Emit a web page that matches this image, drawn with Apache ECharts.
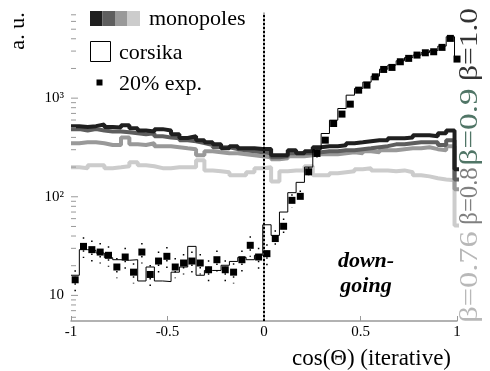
<!DOCTYPE html>
<html><head><meta charset="utf-8">
<script src="https://cdn.jsdelivr.net/npm/echarts@6/dist/echarts.min.js"></script>
<style>html,body{margin:0;padding:0;background:#fff}#chart{width:490px;height:371px}</style>
</head><body><div id="chart"></div>
<script>
// ---- data ----
const binStart = -1;
const binWidth = 0.0432;          // histogram bin width in cos(Theta)
const xTickLabels = ['-1', '-0.5', '0', '0.5', '1'];
const xTickValues = [-1, -0.5, 0, 0.5, 1];
const yMajorTicks = [10, 100, 1000];
const yMajorLabels = ['10', '10\u00B2', '10\u00B3'];
const yMinorTicks = [6, 7, 8, 9, 20, 30, 40, 50, 60, 70, 80, 90, 200, 300, 400, 500, 600, 700, 800, 900, 2000, 3000, 4000, 5000, 6000, 7000];

// monopole histograms (46 bins + overflow bin)
const beta100 = [520,510,520,540,510,505,530,495,470,460,485,470,430,395,410,375,357,340,310,325,310,310,305,305,264,264,297,276,290,318,326,326,333,349,357,366,375,375,393,393,400,421,421,411,441,470,190];
const beta090 = [485,470,485,470,460,460,450,440,430,440,410,400,393,375,366,350,335,318,318,304,297,290,283,276,252,258,276,276,276,283,290,290,297,297,304,310,318,326,340,340,349,357,357,357,335,375,150];
const beta080 = [349,357,357,349,335,335,400,340,335,349,326,326,318,310,304,264,290,283,276,276,270,264,258,252,240,246,258,258,264,270,270,270,276,283,276,290,283,297,297,304,310,310,318,304,297,326,119];
const beta076 = [199,195,209,209,195,199,204,224,209,204,195,195,199,199,199,235,185,181,177,165,165,177,195,199,143,181,185,185,204,165,165,173,177,181,190,195,185,185,181,185,177,165,161,154,150,147,51];
// corsika histogram (46 bins + overflow bin)
const corsika = [16.0,29.1,28.6,26.9,24.1,23.0,22.7,23.0,14.0,19.4,14.0,13.8,17.2,19.4,31.4,16.0,17.9,17.9,20.2,22.1,24.3,23.0,25.5,52,40.6,70,110,140,200,300,438,598,785,1072,1253,1453,1671,1968,2162,2392,2577,2733,2897,3036,3372,4190,2433];
// 20% experimental data (46 bins) with errors, plus overflow point
const exp20 = [14.4,31.4,29.1,27.5,25.5,19.4,24.5,17.2,27.5,16.3,22.3,24.9,19.4,21.3,22.3,21.3,18.2,23.0,18.2,17.2,23.0,32.2,24.5,26.5,37.7,50.2,92,101,179,275,375,553,689,869,1205,1355,1645,1954,2049,2339,2531,2733,2884,2953,3271,4036];
const exp20Err = [3.6,7.5,7,6.5,6,4.5,6,4,6.5,4,5.5,6,4.5,5,5.5,5,4.5,5.5,4.5,4,5.5,7.5,6,6.5,8,10,14,15,20,25,28,33,37,42,48,52,56,60,62,66,68,70,72,73,76,82];
const exp20OverflowX = 1.0;
const exp20Overflow = 2490;
const exp20OverflowErr = 70;

// ---- build series data ----
function steps(vals) {
  const pts = vals.map((v, k) => [binStart + k * binWidth, v]);
  pts.push([binStart + vals.length * binWidth, vals[vals.length - 1]]);
  return pts;
}
const centers = exp20.map((v, k) => binStart + (k + 0.5) * binWidth);
const expPoints = exp20.map((v, k) => [centers[k], v]);
expPoints.push([exp20OverflowX, exp20Overflow]);
const expErrData = exp20.map((v, k) => [centers[k], v, exp20Err[k]]);
expErrData.push([exp20OverflowX, exp20Overflow, exp20OverflowErr]);

const SERIF = 'Liberation Serif';
const chart = echarts.init(document.getElementById('chart'), null, {renderer: 'canvas'});

function monoLine(name, data, color) {
  return {
    name, type: 'line', step: 'end', data: steps(data), symbol: 'none', showSymbol: false,
    lineStyle: {color, width: 4}, z: 2, silent: true
  };
}
function tickSeries(vals, len) {
  return {
    type: 'custom', silent: true, z: 5,
    data: vals.map(v => [binStart, v]),
    renderItem: (params, api) => {
      const p = api.coord([api.value(0), api.value(1)]);
      return {type: 'line', shape: {x1: p[0], y1: p[1], x2: p[0] + len, y2: p[1]},
              style: {stroke: '#999', lineWidth: 1}};
    }
  };
}

function gtext(text, x, y, opts) {
  opts = opts || {};
  return {
    type: 'text', x, y, rotation: opts.rotation || 0, scaleX: opts.scaleX || 1,
    style: {
      text, fill: opts.fill || '#000',
      fontSize: opts.fontSize || 22, fontFamily: SERIF,
      fontWeight: opts.fontWeight || 'normal', fontStyle: opts.fontStyle || 'normal',
      align: opts.align || 'left', verticalAlign: 'middle',
      textAlign: opts.align || 'left', textVerticalAlign: 'middle'
    }
  };
}

const option = {
  animation: false,
  backgroundColor: '#fff',
  grid: {left: 71, right: 33, top: 13, bottom: 50},
  xAxis: {
    type: 'value', min: -1, max: 1, interval: 0.5,
    axisLine: {lineStyle: {color: '#999', width: 1.5}},
    axisTick: {inside: true, length: 5, lineStyle: {color: '#999'}},
    splitLine: {show: false},
    axisLabel: {
      color: '#000', fontFamily: SERIF, fontSize: 15, margin: 4,
      formatter: v => { const i = xTickValues.findIndex(t => Math.abs(t - v) < 1e-9); return i >= 0 ? xTickLabels[i] : ''; }
    }
  },
  yAxis: {
    type: 'log', logBase: 10, min: 5.5, max: 7300,
    axisLine: {show: true, lineStyle: {color: '#999', width: 1.5}},
    axisTick: {show: false},
    splitLine: {show: false},
    axisLabel: {
      color: '#000', fontFamily: SERIF, fontSize: 15, margin: 7,
      showMinLabel: false, showMaxLabel: false,
      formatter: v => { const i = yMajorTicks.findIndex(t => Math.abs(t - v) / t < 1e-6); return i >= 0 ? yMajorLabels[i] : ''; }
    }
  },
  series: [
    monoLine('beta=0.76', beta076, '#cccccc'),
    monoLine('beta=0.8', beta080, '#999999'),
    monoLine('beta=0.9', beta090, '#5e5e5e'),
    monoLine('beta=1.0', beta100, '#1f1f1f'),
    {
      name: 'corsika', type: 'line', step: 'end', data: steps(corsika), symbol: 'none', showSymbol: false,
      lineStyle: {color: '#000', width: 1}, z: 3, silent: true,
      markLine: {
        silent: true, symbol: ['none', 'none'], label: {show: false},
        lineStyle: {color: '#000', width: 2, type: [2, 2]},
        data: [{xAxis: 0}]
      }
    },
    {
      name: 'err', type: 'custom', silent: true, z: 3,
      data: expErrData,
      renderItem: (params, api) => {
        const x = api.value(0), v = api.value(1), e = api.value(2);
        const lo = api.coord([x, v - e]), hi = api.coord([x, v + e]);
        return {type: 'line', shape: {x1: hi[0], y1: hi[1], x2: lo[0], y2: lo[1]},
                style: {stroke: '#000', lineWidth: 1.5, lineDash: [1.5, 5], lineCap: 'butt'}};
      }
    },
    {
      name: '20% exp.', type: 'scatter', data: expPoints, symbol: 'rect', symbolSize: 7,
      itemStyle: {color: '#000', opacity: 1}, z: 4, clip: false, silent: true
    },
    tickSeries(yMajorTicks, 7),
    tickSeries(yMinorTicks, 5)
  ],
  graphic: [
    {type: 'rect', shape: {x: 90, y: 11, width: 12.5, height: 15}, style: {fill: '#1f1f1f'}},
    {type: 'rect', shape: {x: 102.5, y: 11, width: 12.5, height: 15}, style: {fill: '#5e5e5e'}},
    {type: 'rect', shape: {x: 115, y: 11, width: 12.5, height: 15}, style: {fill: '#999999'}},
    {type: 'rect', shape: {x: 127.5, y: 11, width: 12.5, height: 15}, style: {fill: '#cccccc'}},
    gtext('monopoles', 149, 19.5),
    {type: 'rect', shape: {x: 90.5, y: 41.5, width: 20, height: 20}, style: {fill: '#fff', stroke: '#000', lineWidth: 1}},
    gtext('corsika', 119, 53),
    {type: 'rect', shape: {x: 96.5, y: 79.5, width: 6, height: 6}, style: {fill: '#000'}},
    gtext('20% exp.', 119, 84),
    gtext('a. u.', 18.5, 31, {rotation: Math.PI / 2, align: 'center'}),
    gtext('down-', 366, 261.5, {align: 'center', fontWeight: 'bold', fontStyle: 'italic'}),
    gtext('going', 366, 286.5, {align: 'center', fontWeight: 'bold', fontStyle: 'italic'}),
    gtext('cos(\u0398) (iterative)', 451, 358.5, {align: 'right', fontSize: 23}),
    gtext('\u03B2=1.0', 470.5, 44.5, {rotation: Math.PI / 2, align: 'center', fontSize: 26, scaleX: 1.21, fill: '#333333'}),
    gtext('\u03B2=0.9', 470.5, 127, {rotation: Math.PI / 2, align: 'center', fontSize: 26, scaleX: 1.28, fill: '#507566'}),
    gtext('\u03B2=0.8', 470.5, 196, {rotation: Math.PI / 2, align: 'center', fontSize: 26, scaleX: 0.95, fill: '#808080'}),
    gtext('\u03B2=0.76', 470.5, 277, {rotation: Math.PI / 2, align: 'center', fontSize: 26, scaleX: 1.25, fill: '#b8b8b8'})
  ]
};
chart.setOption(option);
</script>
</body></html>
